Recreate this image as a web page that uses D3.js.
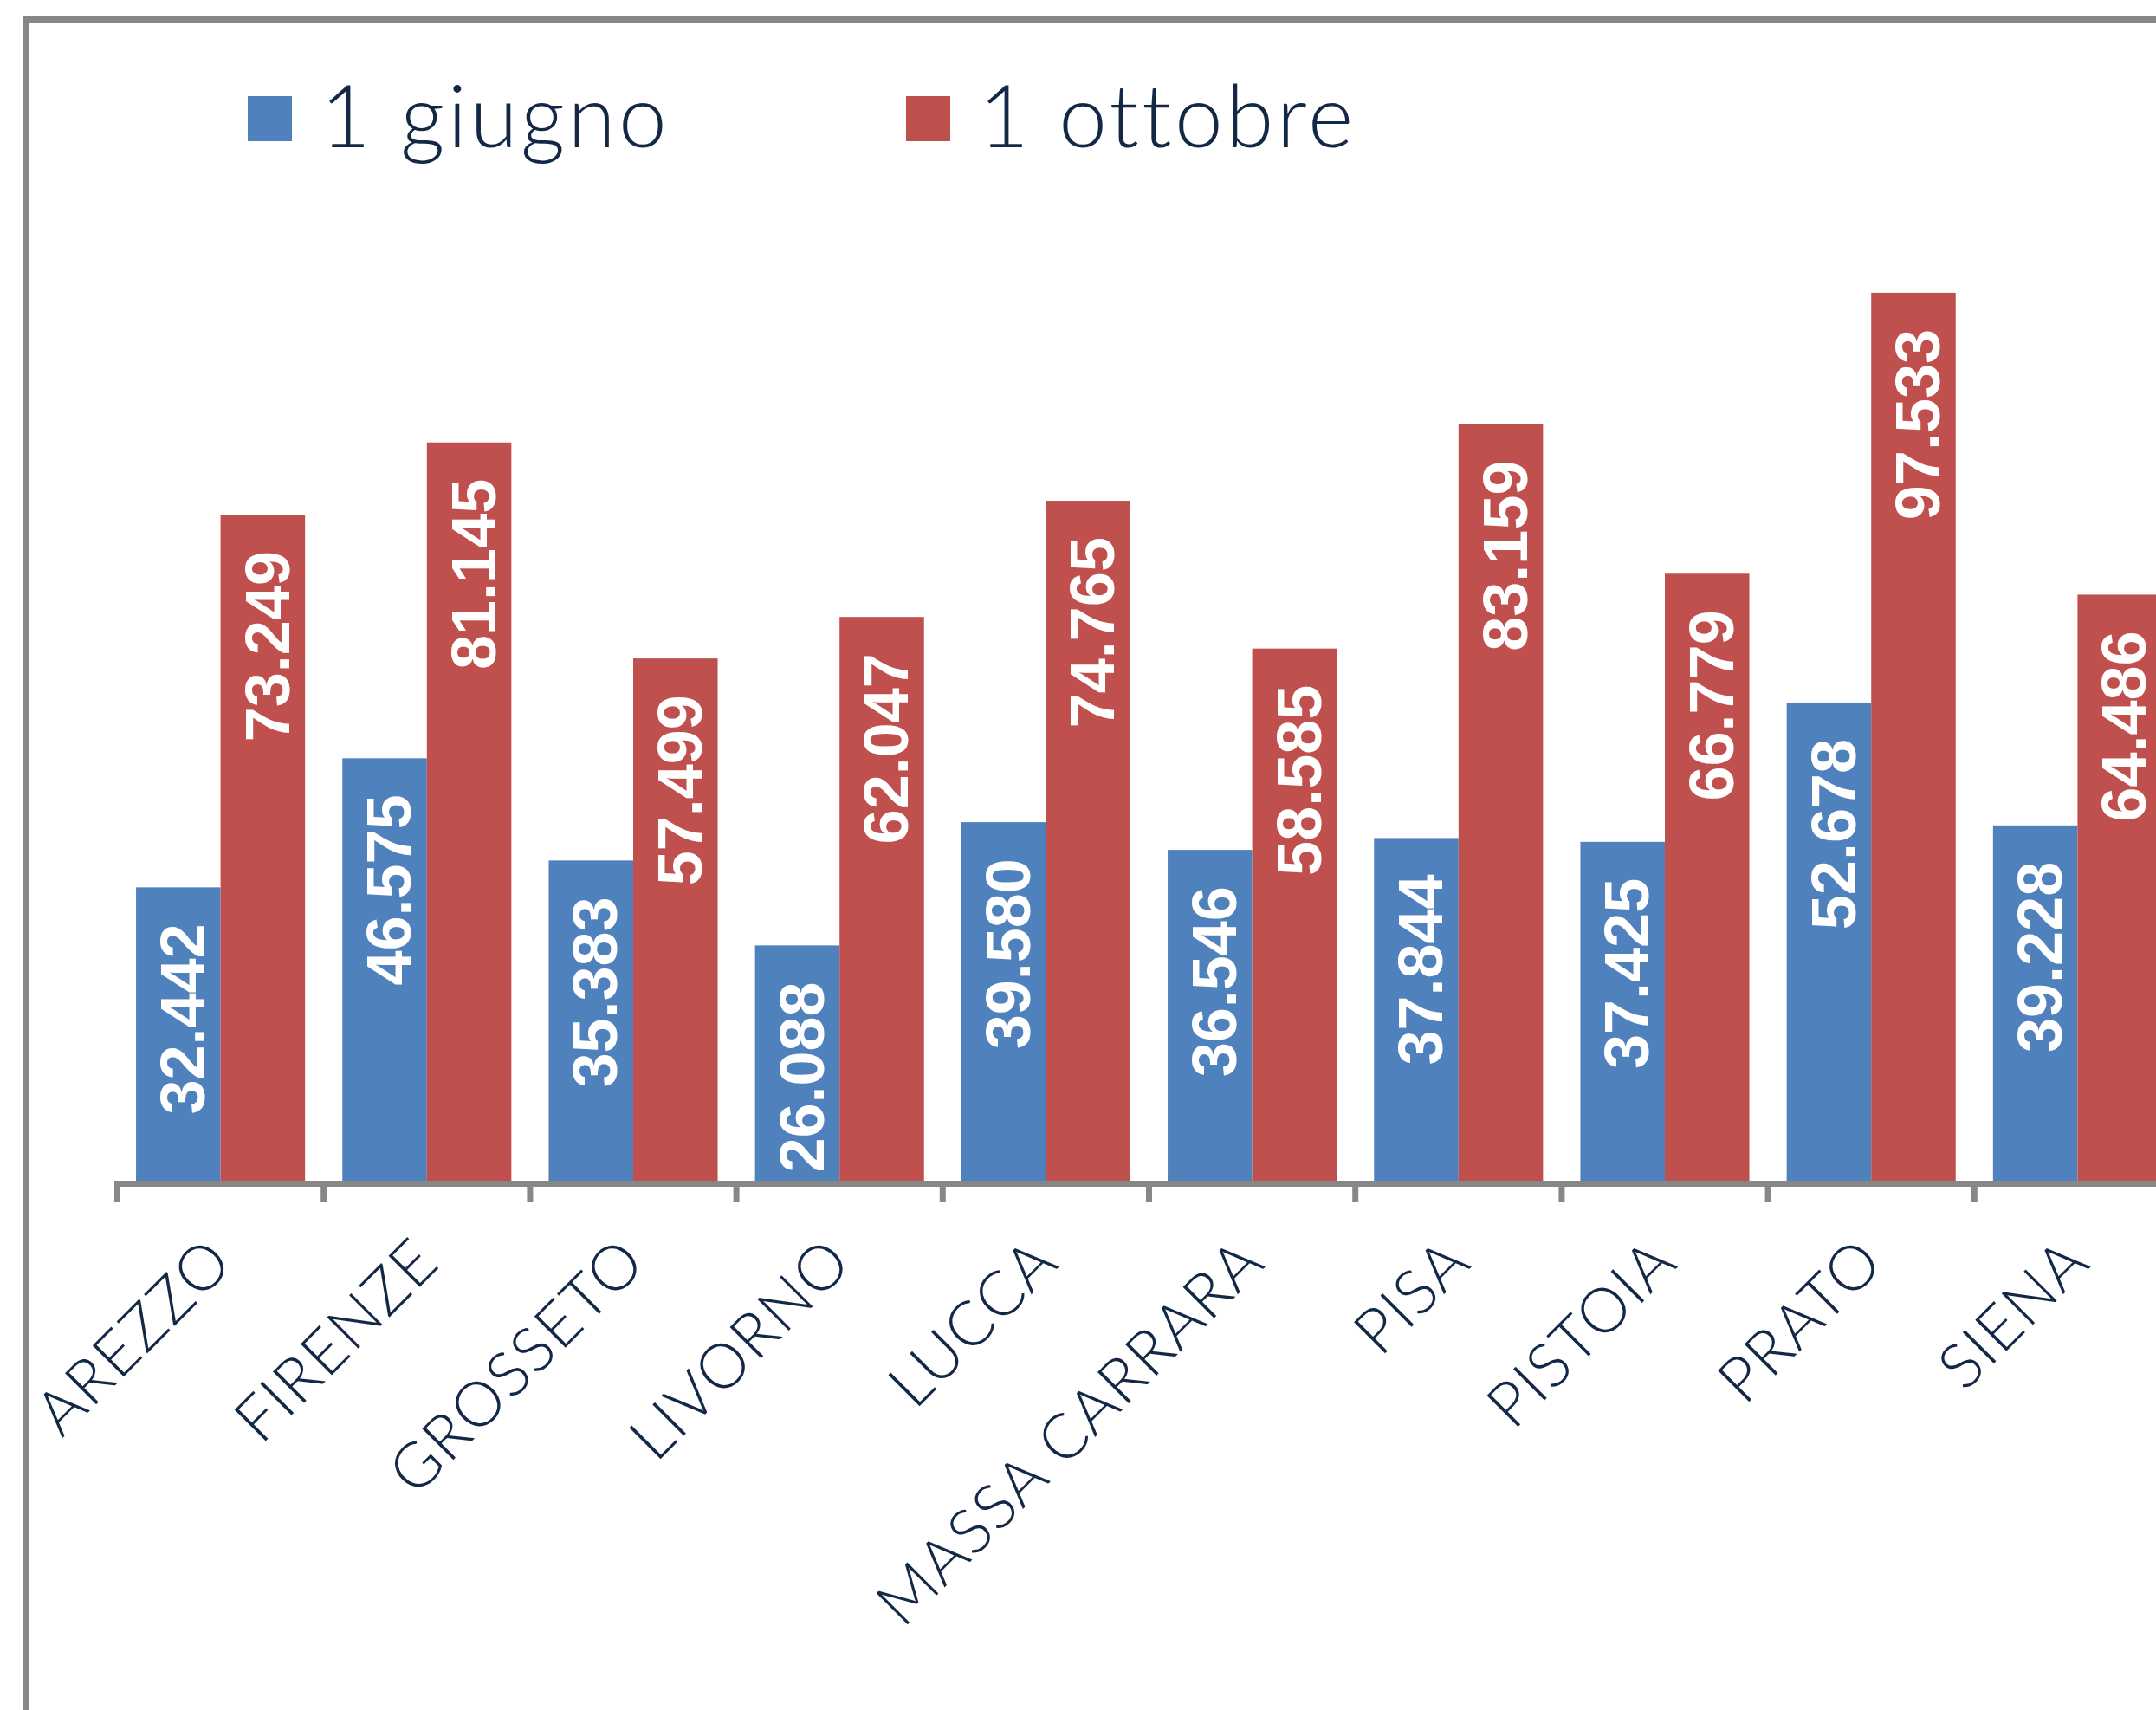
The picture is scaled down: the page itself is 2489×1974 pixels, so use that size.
<!DOCTYPE html>
<html>
<head>
<meta charset="utf-8">
<script src="https://cdn.jsdelivr.net/npm/d3@7"></script>
<style>
  html, body { margin: 0; padding: 0; background: #ffffff; }
  svg { display: block; }
</style>
</head>
<body>
<svg id="chart" width="2489" height="1974"></svg>
<script>
// ---- data ----
const categories = ["AREZZO", "FIRENZE", "GROSSETO", "LIVORNO", "LUCCA", "MASSA CARRARA", "PISA", "PISTOIA", "PRATO", "SIENA"];
const seriesNames = ["1 giugno", "1 ottobre"];
const giugno  = [32442, 46575, 35383, 26088, 39580, 36546, 37844, 37425, 52678, 39228];
const ottobre = [73249, 81145, 57499, 62047, 74765, 58585, 83159, 66779, 97533, 64486];
const yDomain = [0, 120000];

// ---- styles / layout ----
const colors = ["#4f81bd", "#c0504d"];
const textColor = "#132846";
const axisColor = "#878787";
const W = 2489, H = 1974;

const svg = d3.select("#chart");
svg.append("rect").attr("width", W).attr("height", H).attr("fill", "#ffffff");

// chart border (cropped on right and bottom as in the reference)
svg.append("rect")
  .attr("x", 29.5).attr("y", 22.5)
  .attr("width", 3000).attr("height", 3000)
  .attr("fill", "none").attr("stroke", "#878787").attr("stroke-width", 7);

const x0 = d3.scaleBand()
  .domain(categories)
  .range([135.5, 2517.5])
  .paddingInner(0.181)
  .paddingOuter(0.0905);

const x1 = d3.scaleBand()
  .domain(seriesNames)
  .range([0, x0.bandwidth()]);

const y = d3.scaleLinear().domain(yDomain).range([1366.5, 101]);

const rows = categories.map((c, i) => ({ cat: c, vals: [giugno[i], ottobre[i]] }));

const fmt = d3.formatLocale({ decimal: ",", thousands: ".", grouping: [3], currency: ["€", ""] }).format(",d");

// bars
const g = svg.append("g");
const groups = g.selectAll("g.cat").data(rows).join("g")
  .attr("class", "cat")
  .attr("transform", d => `translate(${x0(d.cat)},0)`);

groups.selectAll("rect").data(d => d.vals.map((v, j) => ({ s: seriesNames[j], v, j }))).join("rect")
  .attr("x", d => x1(d.s))
  .attr("y", d => y(d.v))
  .attr("width", x1.bandwidth())
  .attr("height", d => y(0) - y(d.v))
  .attr("fill", d => colors[d.j]);

// data labels (inside end, rotated)
groups.selectAll("text").data(d => d.vals.map((v, j) => ({ s: seriesNames[j], v, j }))).join("text")
  .attr("transform", d => `translate(${x1(d.s) + x1.bandwidth() / 2},${y(d.v) + 42}) rotate(-90)`)
  .attr("text-anchor", "end")
  .attr("dy", "0.42em")
  .attr("fill", "#ffffff")
  .attr("font-family", "'Liberation Sans', Arial, sans-serif")
  .attr("font-weight", "bold")
  .attr("font-size", 72)
  .text(d => fmt(d.v));

// x axis
const axisY = y(0);
const xAxis = d3.axisBottom(x0).tickSize(0).tickFormat("");
const axG = svg.append("g").attr("transform", `translate(0,${axisY})`).call(xAxis);
axG.select(".domain").remove();
axG.selectAll(".tick").remove();

const boundaries = categories.map(c => x0(c) - x0.step() * x0.paddingInner() / 2)
  .concat([x0(categories[categories.length - 1]) + x0.bandwidth() + x0.step() * x0.paddingInner() / 2]);

svg.append("line")
  .attr("x1", boundaries[0] - 3.5).attr("x2", 2600)
  .attr("y1", axisY).attr("y2", axisY)
  .attr("stroke", axisColor).attr("stroke-width", 7);

svg.append("g").selectAll("line").data(boundaries).join("line")
  .attr("x1", d => d).attr("x2", d => d)
  .attr("y1", axisY - 3.5).attr("y2", axisY + 21)
  .attr("stroke", axisColor).attr("stroke-width", 7);

// category labels rotated -45
svg.append("g").selectAll("text").data(categories).join("text")
  .attr("transform", c => `translate(${x0(c) + x0.bandwidth() / 2 + 17},${axisY + 94}) rotate(-45)`)
  .attr("text-anchor", "end")
  .attr("fill", textColor)
  .attr("font-family", "Lato, 'DejaVu Sans', sans-serif")
  .attr("font-weight", 300)
  .attr("font-size", 72)
  .attr("letter-spacing", 1.5)
  .text(c => c);

// legend
const legend = svg.append("g");
const legX = [286, 1046];
seriesNames.forEach((s, i) => {
  legend.append("rect")
    .attr("x", legX[i]).attr("y", 111)
    .attr("width", 51).attr("height", 52)
    .attr("fill", colors[i]);
  legend.append("text")
    .attr("x", legX[i] + 84).attr("y", 170)
    .attr("fill", textColor)
    .attr("font-family", "Lato, 'DejaVu Sans', sans-serif")
    .attr("font-weight", 300)
    .attr("font-size", 100)
    .attr("letter-spacing", 3.5)
    .text(s);
});
</script>
</body>
</html>
